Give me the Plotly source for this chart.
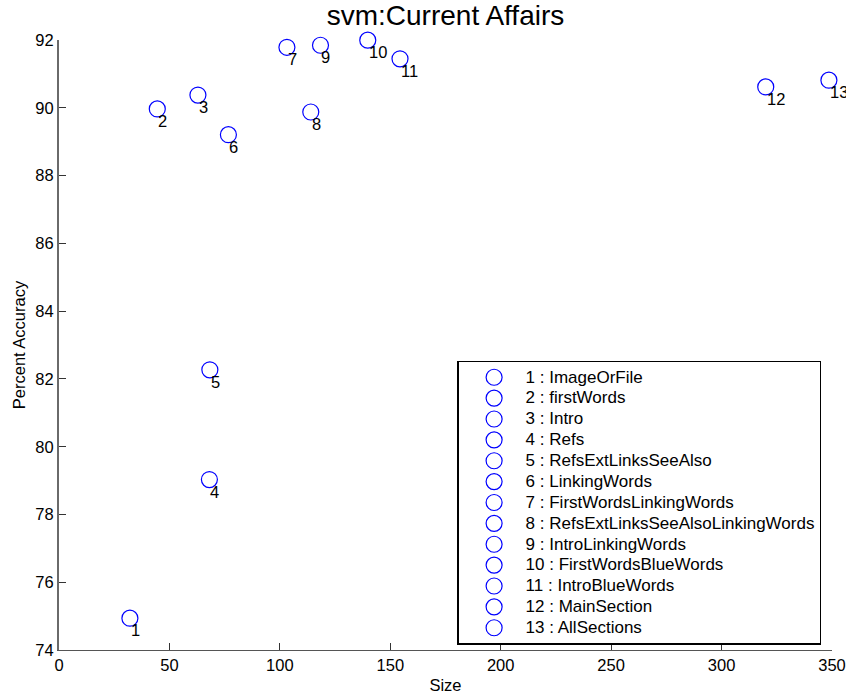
import plotly.graph_objects as go

# Feature-set size vs. SVM accuracy for the "Current Affairs" category
sizes = [32.1, 44.5, 62.9, 68.1, 68.3, 76.7, 103.2, 114.0, 118.4, 139.8, 154.4, 320.0, 348.6]
accuracy = [74.94, 89.97, 90.38, 79.03, 82.27, 89.21, 91.79, 89.88, 91.85, 92.0, 91.45, 90.62, 90.82]
point_ids = ["1", "2", "3", "4", "5", "6", "7", "8", "9", "10", "11", "12", "13"]
feature_sets = [
    "ImageOrFile", "firstWords", "Intro", "Refs", "RefsExtLinksSeeAlso",
    "LinkingWords", "FirstWordsLinkingWords", "RefsExtLinksSeeAlsoLinkingWords",
    "IntroLinkingWords", "FirstWordsBlueWords", "IntroBlueWords",
    "MainSection", "AllSections",
]
x_ticks = [0, 50, 100, 150, 200, 250, 300, 350]
y_ticks = [74, 76, 78, 80, 82, 84, 86, 88, 90, 92]

FONT = "Liberation Sans, Arial, Helvetica, sans-serif"
W, H = 846, 698
ML, MR, MT, MB = 59, 14, 40, 48
plot_w = W - ML - MR
plot_h = H - MT - MB

fig = go.Figure()

for pid, name, xs, ys in zip(point_ids, feature_sets, sizes, accuracy):
    fig.add_trace(go.Scatter(
        x=[xs], y=[ys],
        mode="markers",
        name=f"<span style='font-size:17px'>{pid} : {name}</span>",
        marker=dict(symbol="circle-open", size=16, color="#0000ff",
                    line=dict(color="#0000ff", width=1.2)),
        cliponaxis=False,
        hoverinfo="x+y+name",
    ))

annotations = [
    dict(x=xs, y=ys, text=pid, xref="x", yref="y",
         xanchor="left", yanchor="top", showarrow=False,
         xshift=-1, yshift=-1,
         font=dict(family=FONT, size=16.5, color="#000000"))
    for pid, xs, ys in zip(point_ids, sizes, accuracy)
]

fig.update_layout(
    width=W, height=H,
    margin=dict(l=ML, r=MR, t=MT, b=MB, pad=0, autoexpand=False),
    paper_bgcolor="white",
    plot_bgcolor="white",
    font=dict(family=FONT, size=16.5, color="#000000"),
    title=dict(text="svm:Current Affairs", x=0.5, xref="paper", xanchor="center",
               y=1 - 15.5 / H, yref="container", yanchor="middle",
               font=dict(family=FONT, size=28, color="#000000")),
    showlegend=True,
    legend=dict(
        x=(457.3 - ML) / plot_w, y=(650 - 360.5) / plot_h,
        xanchor="left", yanchor="top",
        bgcolor="white", bordercolor="#000000", borderwidth=1.3,
        font=dict(family=FONT, size=13.75, color="#000000"),
        itemwidth=53, indentation=4,
        traceorder="normal",
    ),
    annotations=annotations,
)

fig.update_xaxes(
    range=[0, 350], tickvals=x_ticks, ticktext=[str(v) for v in x_ticks],
    ticks="inside", ticklen=7, tickwidth=1, tickcolor="#333333",
    showline=True, linecolor="#555555", linewidth=1.3,
    showgrid=False, zeroline=False, mirror=False, automargin=False,
    tickfont=dict(family=FONT, size=16.5, color="#000000"),
    title=dict(text="Size", font=dict(family=FONT, size=16.5, color="#000000"), standoff=6),
)
fig.update_yaxes(
    range=[74, 92.005], tickvals=y_ticks, ticktext=[str(v) for v in y_ticks],
    ticks="inside", ticklen=7, tickwidth=1, tickcolor="#333333",
    showline=True, linecolor="#6a6a6a", linewidth=2,
    showgrid=False, zeroline=False, mirror=False, automargin=False,
    tickfont=dict(family=FONT, size=16.5, color="#000000"),
    title=dict(text="Percent Accuracy", font=dict(family=FONT, size=16.5, color="#000000"), standoff=6),
)

fig.write_html("out.html")
